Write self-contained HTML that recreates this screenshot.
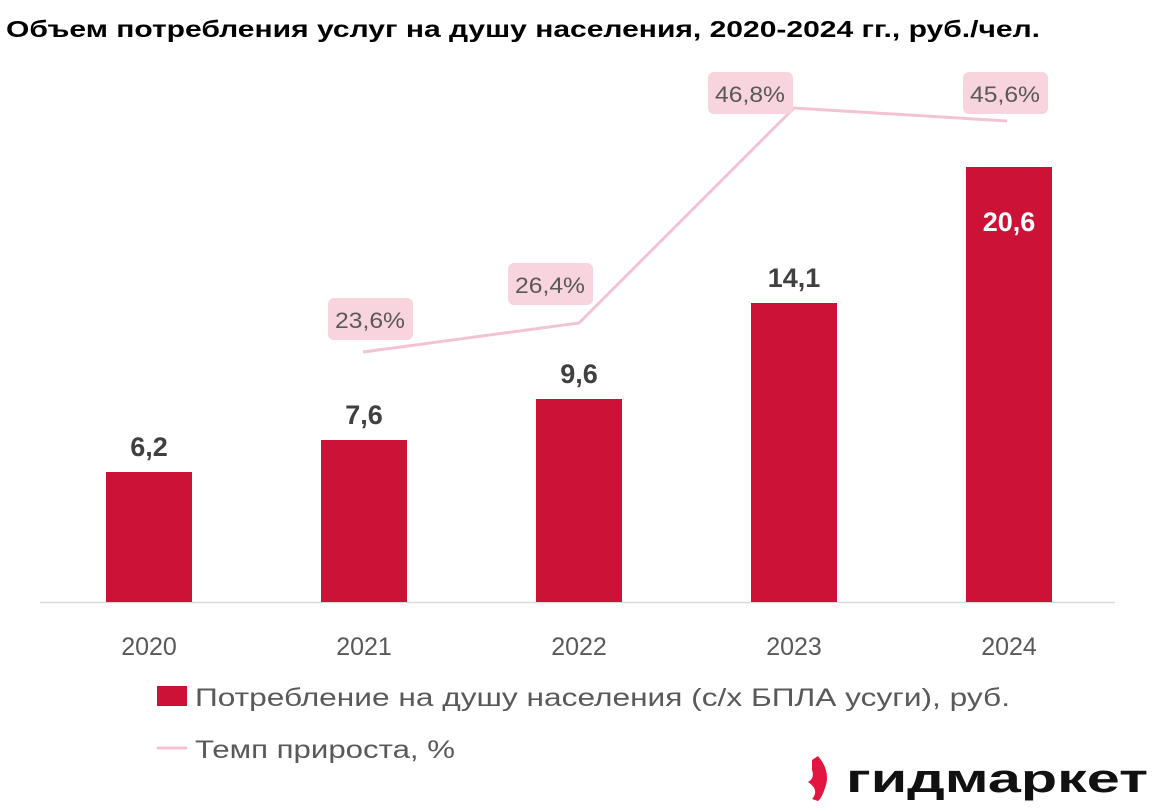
<!DOCTYPE html>
<html><head><meta charset="utf-8"><style>
body{margin:0;width:1155px;height:806px;background:#fff;overflow:hidden;font-family:"Liberation Sans","DejaVu Sans",sans-serif}
</style></head><body>
<svg width="1155" height="806" viewBox="0 0 1155 806" xmlns="http://www.w3.org/2000/svg" font-family="Liberation Sans, DejaVu Sans, sans-serif">
<text x="6" y="37" font-size="23" font-weight="bold" fill="#000" textLength="1034" lengthAdjust="spacingAndGlyphs">Объем потребления услуг на душу населения, 2020-2024 гг., руб./чел.</text>
<line x1="40" y1="602.5" x2="1115" y2="602.5" stroke="#d9d9d9" stroke-width="1.5"/>
<g fill="#cc1236">
<rect x="106" y="472" width="86" height="130"/>
<rect x="321" y="440" width="86" height="162"/>
<rect x="536" y="399" width="86" height="203"/>
<rect x="751" y="303" width="86" height="299"/>
<rect x="966" y="167" width="86" height="435"/>
</g>
<g font-size="27" font-weight="bold" fill="#404040" text-anchor="middle">
<text x="149" y="456">6,2</text>
<text x="364" y="424">7,6</text>
<text x="579" y="383">9,6</text>
<text x="794" y="287">14,1</text>
<text x="1009" y="231" fill="#fff">20,6</text>
</g>
<polyline points="363,352 579,323 794,108 1007,121" fill="none" stroke="#f4c3d1" stroke-width="3"/>
<g fill="#f8d4de">
<rect x="328" y="298" width="85" height="42" rx="6"/>
<rect x="508" y="263" width="85" height="42" rx="6"/>
<rect x="708" y="72" width="85" height="42" rx="6"/>
<rect x="963" y="72" width="85" height="42" rx="6"/>
</g>
<g font-size="22" fill="#595959" text-anchor="middle">
<text x="370" y="328" textLength="70" lengthAdjust="spacingAndGlyphs">23,6%</text>
<text x="550" y="293" textLength="70" lengthAdjust="spacingAndGlyphs">26,4%</text>
<text x="750" y="102" textLength="70" lengthAdjust="spacingAndGlyphs">46,8%</text>
<text x="1005" y="102" textLength="70" lengthAdjust="spacingAndGlyphs">45,6%</text>
</g>
<g font-size="25" fill="#595959" text-anchor="middle">
<text x="149" y="655">2020</text>
<text x="364" y="655">2021</text>
<text x="579" y="655">2022</text>
<text x="794" y="655">2023</text>
<text x="1009" y="655">2024</text>
</g>
<rect x="157" y="686" width="30" height="20" fill="#cc1236"/>
<text x="195" y="706" font-size="25" fill="#595959" textLength="815" lengthAdjust="spacingAndGlyphs">Потребление на душу населения (с/х БПЛА усуги), руб.</text>
<line x1="157" y1="748" x2="187" y2="748" stroke="#f4c3d1" stroke-width="3"/>
<text x="195" y="758" font-size="25" fill="#595959" textLength="260" lengthAdjust="spacingAndGlyphs">Темп прироста, %</text>
<path d="M812,760 L818,756 Q830,770 826,785 Q822,798 818,801 L812,799 Q820,790 808,782 Q815,778 812,770 Z" fill="#e3163f"/>
<text x="846" y="792" font-size="40" font-weight="bold" fill="#111" textLength="302" lengthAdjust="spacingAndGlyphs">гидмаркет</text>
</svg>
</body></html>
